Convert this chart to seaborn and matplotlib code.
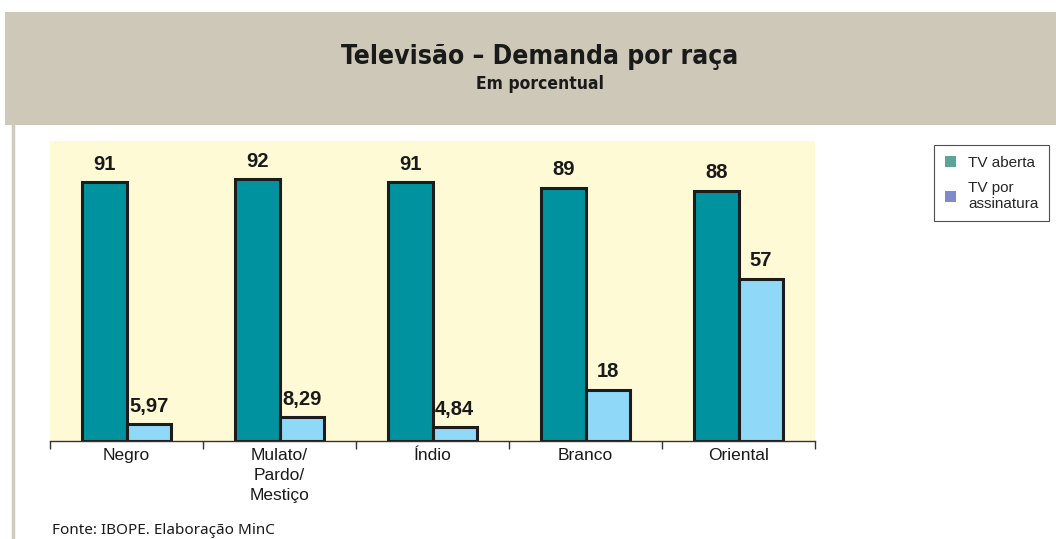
import matplotlib
matplotlib.use("Agg")
import matplotlib.pyplot as plt
from matplotlib.patches import Rectangle, Patch
from matplotlib.lines import Line2D
import seaborn as sns
import pandas as pd

# Data: share of households with TV access, by race (%)
categorias = ["Negro", "Mulato/\nPardo/\nMestiço", "Índio", "Branco", "Oriental"]
tv_aberta = [91, 92, 91, 89, 88]
tv_assinatura = [5.97, 8.29, 4.84, 18, 57]
series = ["TV aberta", "TV por\nassinatura"]

titulo = "Televisão – Demanda por raça"
subtitulo = "Em porcentual"
fonte = "Fonte: IBOPE. Elaboração MinC"

df = pd.DataFrame({
    "raca": categorias * 2,
    "valor": tv_aberta + tv_assinatura,
    "tipo": [series[0]] * len(categorias) + [series[1]] * len(categorias),
})

sns.set_theme(style="white")
plt.rcParams["font.family"] = ["Liberation Sans", "DejaVu Sans"]

W, H = 1056, 539
fig = plt.figure(figsize=(W / 100, H / 100), dpi=100)
fig.patch.set_facecolor("white")

# Header band and left rule
fig.patches.append(Rectangle((5 / W, 1 - 125 / H), 1 - 5 / W, 113 / H,
                             transform=fig.transFigure, facecolor="#cdc8b8",
                             edgecolor="none", zorder=0))
fig.add_artist(Line2D([13 / W, 13 / W], [0, 1 - 125 / H], transform=fig.transFigure,
                      color="#cfcbbf", linewidth=2.5))

fig.text(540 / W, 1 - 57 / H, titulo, ha="center", va="center",
         fontsize=19, fontweight="heavy", color="#1a1a1a",
         family=["DejaVu Sans"], stretch="condensed")
fig.text(540 / W, 1 - 84 / H, subtitulo, ha="center", va="center",
         fontsize=12.5, fontweight="heavy", color="#1a1a1a",
         family=["DejaVu Sans"], stretch="condensed")

ax = fig.add_axes([50 / W, (H - 441) / H, 765 / W, 300 / H])
ax.set_facecolor("#fffad6")

teal = "#00939f"
celeste = "#8fd8f7"
sns.barplot(data=df, x="raca", y="valor", hue="tipo", palette=[teal, celeste],
            width=0.58, edgecolor="#1c1c1c", linewidth=2.2, ax=ax,
            legend=False, saturation=1)

for cont, vals in zip(ax.containers, [tv_aberta, tv_assinatura]):
    ax.bar_label(cont, labels=[f"{v:g}".replace(".", ",") for v in vals],
                 padding=6, fontsize=14.5, fontweight="bold", color="#1a1a1a")

ax.set_xlim(-0.5, len(categorias) - 0.5)
ax.set_ylim(0, 105.4)
ax.set_xlabel("")
ax.set_ylabel("")
ax.set_yticks([])
ax.set_xticks(range(len(categorias)))
ax.set_xticklabels(categorias, fontsize=12.5, color="#1a1a1a", linespacing=1.4)
ax.set_xticks([i - 0.5 for i in range(len(categorias) + 1)], minor=True)
ax.tick_params(axis="x", which="major", length=0, pad=5)
ax.tick_params(axis="x", which="minor", length=6, width=1, color="#333333",
               direction="out", bottom=True)
for s in ["top", "right", "left"]:
    ax.spines[s].set_visible(False)
ax.spines["bottom"].set_color("#333333")
ax.spines["bottom"].set_linewidth(1)

handles = [Patch(facecolor="#5aa596", edgecolor="none", label=series[0]),
           Patch(facecolor="#7f8acb", edgecolor="none", label=series[1])]
leg = fig.legend(handles=handles, loc="upper left",
                 bbox_to_anchor=(934 / W, 1 - 145 / H), frameon=True,
                 fancybox=False, edgecolor="#222222", fontsize=11,
                 handlelength=0.75, handleheight=0.75, handletextpad=0.8,
                 borderpad=0.7, labelspacing=0.75, borderaxespad=0)
leg.get_frame().set_linewidth(0.8)
for t in leg.get_texts():
    t.set_linespacing(1.15)

fig.text(52 / W, 1 - 530 / H, fonte, ha="left", va="center",
         fontsize=11, color="#1a1a1a", family=["Noto Sans", "DejaVu Sans"])

fig.savefig("out.png", dpi=100, facecolor="white")
